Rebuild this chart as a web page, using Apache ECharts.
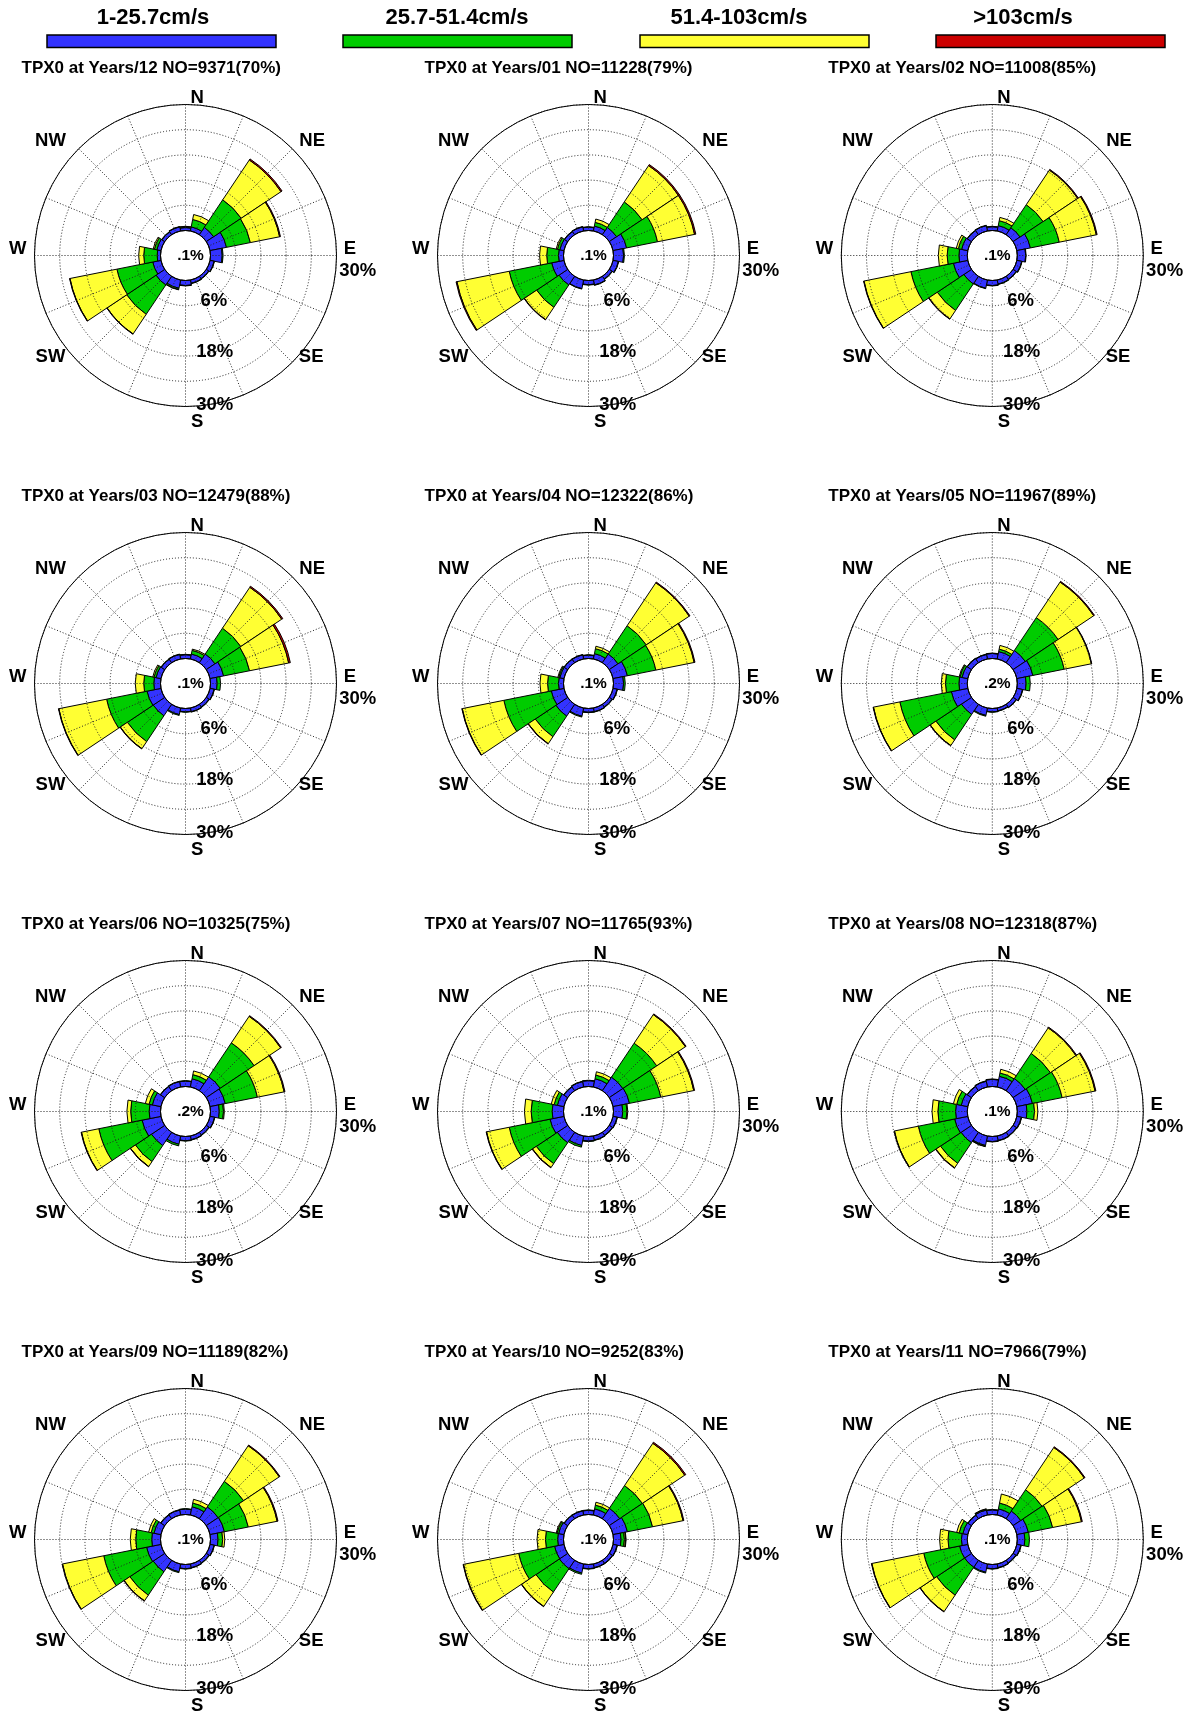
<!DOCTYPE html>
<html><head><meta charset="utf-8">
<script src="https://cdn.jsdelivr.net/npm/echarts@6/dist/echarts.min.js"></script>
<style>html,body{margin:0;padding:0;background:#fff}#c{width:1196px;height:1711px}</style>
</head><body><div id="c"></div>
<script>
// ---------- data ----------
const directions = ['N','NNE','NE','ENE','E','ESE','SE','SSE','S','SSW','SW','WSW','W','WNW','NW','NNW'];
const speedClasses = ['1-25.7cm/s','25.7-51.4cm/s','51.4-103cm/s','>103cm/s'];
const months = ['12','01','02','03','04','05','06','07','08','09','10','11'];
const counts = [9371, 11228, 11008, 12479, 12322, 11967, 10325, 11765, 12318, 11189, 9252, 7966];
const countPct = [70, 79, 85, 88, 86, 89, 75, 93, 87, 82, 83, 79];
const calmPct = ['.1', '.1', '.1', '.1', '.1', '.2', '.2', '.1', '.1', '.1', '.1', '.1'];
const ringTicks = ['6%', '18%', '30%'];
const compassLabels = ['N','NE','E','SE','S','SW','W','NW'];

// percent frequency per direction, per speed class (increments)
const blue12   = [0.7,1.0,2.1,4.0,2.8,1.0,0.7,0.8,1.2,2.0,2.5,2.0,0.8,1.0,0.8,1.0];
const green12  = [0.2,1.8,7.9,5.8,0.2,0.1,0.1,0.1,0.1,0.3,8.4,8.7,3.2,0.6,0.1,0.1];
const yellow12 = [0.1,1.2,11.4,7.1,0,0,0,0,0,0.1,5.6,11.4,1.2,0.3,0,0];
const red12    = [0,0,0.3,0.2,0,0,0,0,0,0,0.1,0.1,0,0,0,0];

const blue01   = [0.8,1.2,2.1,3.3,2.4,1.3,0.8,1.2,1.0,2.1,2.5,3.0,1.2,1.0,0.9,1.0];
const green01  = [0.1,0.9,7.3,7.5,0.2,0.1,0.1,0.1,0.1,0.1,6.4,10.3,2.8,0.6,0.1,0.1];
const yellow01 = [0,0.8,10.4,9.0,0,0,0,0,0,0,3.5,12.7,1.7,0.3,0,0];
const red01    = [0,0,0.3,0.3,0,0,0,0,0,0,0.1,0.2,0,0,0,0];

const blue02   = [0.9,1.3,2.0,3.3,2.0,1.2,0.9,1.0,1.2,2.0,2.2,3.5,2.0,1.5,1.2,1.3];
const green02  = [0.1,1.2,6.6,7.0,0.1,0.1,0.1,0.1,0.1,0.1,7.6,10.3,2.8,0.8,0.1,0.1];
const yellow02 = [0,0.8,9.9,9.0,0,0,0,0,0,0,2.4,11.4,2.1,0.5,0,0];
const red02    = [0,0,0.2,0.2,0,0,0,0,0,0,0.1,0.1,0,0,0,0];

const blue03   = [0.9,1.2,2.5,3.3,1.6,1.0,0.8,0.9,0.8,1.6,3.3,3.4,1.6,1.2,1.0,1.1];
const green03  = [0.1,0.9,7.4,6.3,0.8,0.1,0.1,0.1,0.1,0.2,7.4,9.8,2.4,0.5,0.1,0.1];
const yellow03 = [0,0.3,11.7,9.5,0,0,0,0,0,0,2.0,11.6,2.0,0.3,0,0];
const red03    = [0,0,0.3,0.4,0,0,0,0,0,0,0.1,0.1,0,0,0,0];

const blue04   = [0.8,1.3,2.5,3.5,2.4,1.0,0.8,0.9,0.9,2.0,3.4,3.1,1.2,1.0,1.0,1.0];
const green04  = [0.1,1.2,8.1,6.9,0.4,0.1,0.1,0.1,0.1,0.2,5.9,11.5,2.6,0.3,0.1,0.1];
const yellow04 = [0,0.6,12.3,9.3,0,0,0,0,0,0,2.0,10.1,1.8,0.2,0,0];
const red04    = [0,0,0.2,0.2,0,0,0,0,0,0,0.1,0.1,0,0,0,0];

const blue05   = [1.2,1.8,3.5,3.9,2.1,1.4,0.9,0.7,0.8,1.8,2.9,4.0,2.0,1.4,1.2,1.1];
const green05  = [0.1,0.6,9.4,7.6,1.0,0.1,0.1,0.1,0.1,0.2,7.3,12.5,3.2,0.5,0.1,0.1];
const yellow05 = [0,0.9,10.2,6.6,0,0,0,0,0,0,1.6,6.4,1.0,0.2,0,0];
const red05    = [0,0,0.2,0.1,0,0,0,0,0,0,0.1,0.1,0,0,0,0];

const blue06   = [1.3,2.0,4.0,3.7,2.1,1.1,0.8,0.9,1.0,2.0,3.8,4.6,2.7,2.1,1.2,1.3];
const green06  = [0.1,1.0,9.7,7.8,1.0,0.1,0.1,0.1,0.1,0.4,4.6,10.5,4.4,0.8,0.1,0.1];
const yellow06 = [0,0.9,7.6,6.5,0.2,0,0,0,0,0,1.4,4.2,0.9,0.9,0,0];
const red06    = [0,0,0.2,0.2,0,0,0,0,0,0,0.1,0.1,0,0,0,0];

const blue07   = [1.4,2.0,3.9,4.0,2.2,1.0,0.9,1.0,1.1,2.3,3.0,3.4,2.7,1.6,1.1,1.3];
const green07  = [0.1,0.9,9.7,7.6,1.0,0.1,0.1,0.1,0.1,0.4,6.0,9.9,5.0,0.8,0.1,0.1];
const yellow07 = [0,0.8,8.2,8.0,0.2,0,0,0,0,0,1.1,5.5,1.6,0.7,0,0];
const red07    = [0,0,0.2,0.2,0,0,0,0,0,0,0.1,0.1,0,0,0,0];

const blue08   = [1.7,2.6,3.5,3.8,2.3,1.1,1.0,1.1,1.2,2.3,3.0,3.2,2.8,1.6,1.2,1.4];
const green08  = [0.1,0.8,7.2,7.2,1.8,0.1,0.1,0.1,0.1,0.2,5.9,8.8,4.2,1.1,0.1,0.1];
const yellow08 = [0,0.9,7.3,8.0,0.8,0,0,0,0,0.1,1.3,5.8,1.4,0.8,0,0];
const red08    = [0,0,0.2,0.2,0,0,0,0,0,0,0.1,0.1,0,0,0,0];

const blue09   = [1.3,2.0,3.4,3.5,1.8,1.0,0.8,0.9,1.0,1.9,3.3,3.5,2.1,1.7,1.1,1.2];
const green09  = [0.1,0.9,7.3,5.8,1.1,0.1,0.1,0.1,0.1,0.2,6.7,10.4,3.8,0.7,0.1,0.1];
const yellow09 = [0,0.9,10.2,7.0,0.5,0,0,0,0,0,1.6,10.0,1.3,0.6,0,0];
const red09    = [0,0,0.2,0.2,0,0,0,0,0,0,0.1,0.1,0,0,0,0];

const blue10   = [1.0,1.5,3.0,3.5,1.8,1.0,0.9,0.9,1.0,2.2,2.4,2.3,1.4,1.3,1.0,1.0];
const green10  = [0.1,0.9,6.5,6.1,0.8,0.1,0.1,0.1,0.1,0.3,6.7,8.7,2.9,0.4,0.1,0.1];
const yellow10 = [0,0.7,12.1,7.4,0.3,0,0,0,0,0,4.1,13.4,2.0,0.2,0,0];
const red10    = [0,0,0.3,0.2,0.1,0,0,0,0,0,0.1,0.1,0,0,0,0];

const blue11   = [1.1,1.5,2.2,2.8,1.8,1.0,0.8,0.9,1.0,2.0,2.0,2.0,1.4,1.2,1.0,1.2];
const green11  = [0.1,1.4,6.1,5.9,1.1,0.1,0.1,0.1,0.1,0.2,8.0,8.7,3.2,0.9,0.1,0.2];
const yellow11 = [0,2.2,12.1,7.0,0,0,0,0,0,0,4.7,12.6,2.0,0.6,0,0.1];
const red11    = [0,0,0.2,0.2,0,0,0,0,0,0,0.1,0.1,0,0,0,0];

const roseData = [
  [blue12, green12, yellow12, red12], [blue01, green01, yellow01, red01], [blue02, green02, yellow02, red02],
  [blue03, green03, yellow03, red03], [blue04, green04, yellow04, red04], [blue05, green05, yellow05, red05],
  [blue06, green06, yellow06, red06], [blue07, green07, yellow07, red07], [blue08, green08, yellow08, red08],
  [blue09, green09, yellow09, red09], [blue10, green10, yellow10, red10], [blue11, green11, yellow11, red11]
];

// ---------- layout / style ----------
const colors = ['#3333ff', '#00cc00', '#ffff33', '#cc0000'];
const colX = [185.5, 588.5, 992.3];
const rowY = [255.5, 683.5, 1111.5, 1539.5];
const innerR = 25, outerR = 151;
const FONT = '"Liberation Sans", Arial, Helvetica, sans-serif';
const dotted = { type: [1, 2], color: '#222', width: 1 };

const polar = [], angleAxis = [], radiusAxis = [], series = [], graphic = [];

function txt(text, x, y, size, align) {
  graphic.push({
    type: 'text', x: x, y: y, z: 100, silent: true,
    style: { text: text, fill: '#000', font: 'bold ' + size + 'px ' + FONT,
             align: align || 'center', verticalAlign: 'middle' }
  });
}

// legend
const legendTextX = [153, 457, 739, 1023];
const legendBarX = [47, 343, 640, 936];
speedClasses.forEach((s, k) => {
  txt(s, legendTextX[k], 17.5, 22);
  graphic.push({ type: 'rect', z: 100, silent: true,
    shape: { x: legendBarX[k], y: 35, width: 229, height: 12.5 },
    style: { fill: colors[k], stroke: '#000', lineWidth: 1.5 } });
});

// compass label offsets from rose centre
const compassOff = { N: [11.7, -158], NE: [126.7, -115], E: [164.3, -6.7], SE: [125.7, 101],
                     S: [11.7, 166.7], SW: [-135, 101], W: [-167.7, -6.7], NW: [-135, -115] };
const ringOff = [[28.3, 45.7], [29.3, 96.7], [29.3, 149.3]];

const nRose = roseData.length;
roseData.forEach((rd, i) => {
  const cx = colX[i % 3], cy = rowY[Math.floor(i / 3)];
  // polar i: bars (category angle axis, N centred at top)
  polar.push({ center: [cx, cy], radius: [innerR, outerR] });
  angleAxis.push({
    polarIndex: i, type: 'category', data: directions,
    startAngle: 90 + 180 / directions.length, clockwise: true,
    axisLine: { show: false }, axisTick: { show: false }, axisLabel: { show: false },
    splitLine: { show: false }
  });
  radiusAxis.push({
    polarIndex: i, type: 'value', min: 0, max: 30, interval: 6,
    axisLine: { show: false }, axisTick: { show: false }, axisLabel: { show: false },
    splitLine: { show: false }
  });
  rd.forEach((vals, k) => {
    series.push({
      type: 'bar', coordinateSystem: 'polar', polarIndex: i, stack: 'rose' + i,
      name: speedClasses[k], barCategoryGap: '0%',
      data: vals.map(v => (v > 0 ? v : '-')),
      itemStyle: { color: colors[k], borderColor: '#000', borderWidth: 1 },
      emphasis: { disabled: true }, silent: true
    });
  });
  // texts
  txt('TPX0 at Years/' + months[i] + ' NO=' + counts[i] + '(' + countPct[i] + '%)', cx - 164, cy - 187.5, 17, 'left');
  compassLabels.forEach(c => txt(c, cx + compassOff[c][0], cy + compassOff[c][1], 18.5));
  txt('30%', cx + 172.3, cy + 15.7, 18.5);
  ringTicks.forEach((t, k) => txt(t, cx + ringOff[k][0], cy + ringOff[k][1], 18.5));
  txt(calmPct[i] + '%', cx + 5, cy, 15.5);
});
// grid polars drawn on top of the bars (spokes through each direction)
roseData.forEach((rd, i) => {
  const cx = colX[i % 3], cy = rowY[Math.floor(i / 3)];
  polar.push({ center: [cx, cy], radius: [innerR, outerR] });
  angleAxis.push({
    polarIndex: nRose + i, type: 'value', min: 0, max: 360, interval: 360 / directions.length,
    startAngle: 90, clockwise: true, z: 5,
    axisLine: { show: true, lineStyle: { color: '#000', width: 1 } },
    axisTick: { show: false }, axisLabel: { show: false },
    splitLine: { show: true, lineStyle: dotted }
  });
  radiusAxis.push({
    polarIndex: nRose + i, type: 'value', min: 0, max: 30, interval: 6, z: 5,
    axisLine: { show: false }, axisTick: { show: false }, axisLabel: { show: false },
    splitLine: { show: true, lineStyle: dotted }
  });
});

const chart = echarts.init(document.getElementById('c'), null, { renderer: 'canvas' });
chart.setOption({
  animation: false,
  backgroundColor: '#fff',
  polar: polar, angleAxis: angleAxis, radiusAxis: radiusAxis,
  series: series, graphic: graphic
});
</script></body></html>
